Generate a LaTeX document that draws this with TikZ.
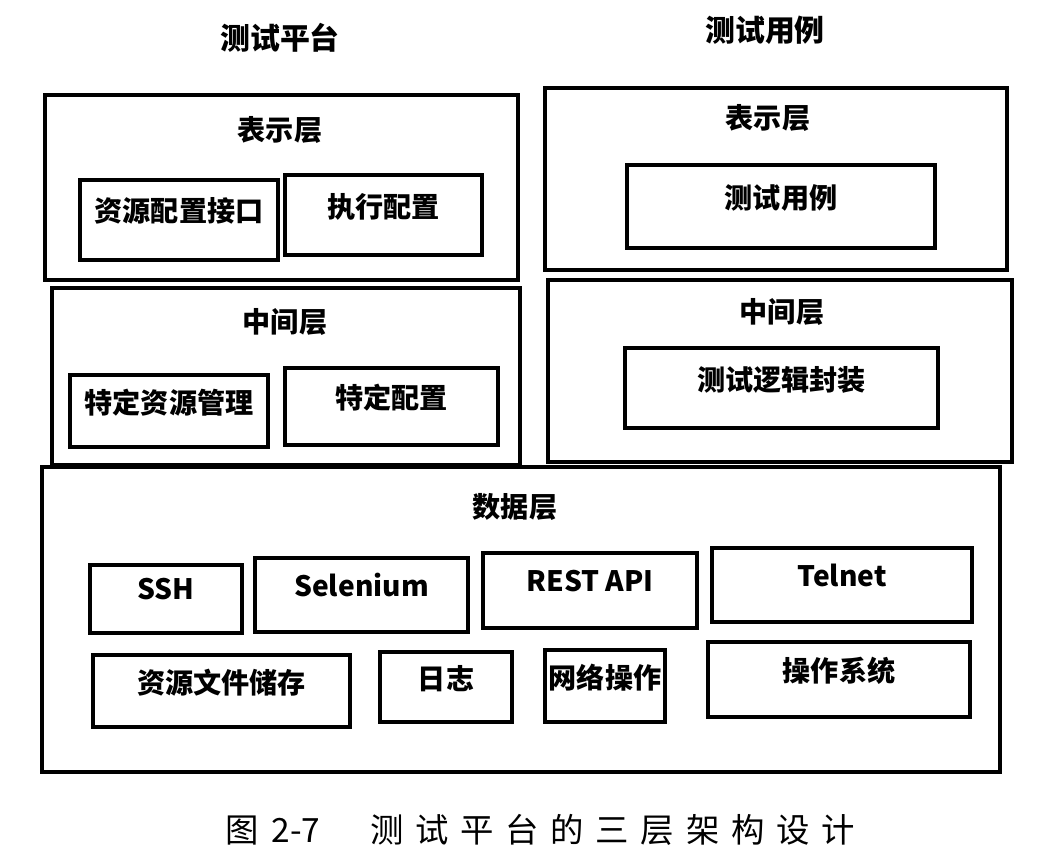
\documentclass[tikz,border=0pt]{standalone}
\usepackage{fontspec}
\newfontfamily\cjk{Noto Sans CJK SC}
\newfontfamily\cjkcap[LetterSpace=35]{Noto Sans CJK SC}
\begin{document}
\begin{tikzpicture}[x=0.01cm,y=-0.01cm,
    layer/.style={draw,line width=1.2pt,inner sep=0pt},
    item/.style={draw,line width=1.2pt,inner sep=0pt,text depth=0.2cm,font=\cjk\bfseries\fontsize{8}{10}\selectfont},
    lab/.style={font=\cjk\bfseries\fontsize{8}{10}\selectfont}]
    \useasboundingbox (0,0) rectangle (1046,868);
    % titles
    \node[lab,font=\cjk\bfseries\fontsize{8.5}{10}\selectfont] (tplat) at (280,38) {测试平台};
    \node[lab,font=\cjk\bfseries\fontsize{8.5}{10}\selectfont] (tcase) at (765,30) {测试用例};
    % presentation layer
    \node[layer,minimum width=4.73cm,minimum height=1.85cm] (pl) at (281.5,187.5) {};
    \node[lab] (pll) at (280,130) {表示层};
    \node[item,minimum width=1.98cm,minimum height=0.8cm] (resif) at (179,220) {资源配置接口};
    \node[item,minimum width=1.97cm,minimum height=0.8cm] (exec) at (383.5,215) {执行配置};
    \node[layer,minimum width=4.62cm,minimum height=1.82cm] (pr) at (776,179) {};
    \node[lab] (prl) at (768,118) {表示层};
    \node[item,minimum width=3.08cm,minimum height=0.83cm] (cases) at (781,206.5) {测试用例};
    % middle layer
    \node[layer,minimum width=4.68cm,minimum height=1.77cm] (ml) at (286,376.5) {};
    \node[lab] (mll) at (285,322) {中间层};
    \node[item,minimum width=1.98cm,minimum height=0.72cm] (resmgr) at (169,411) {特定资源管理};
    \node[item,minimum width=2.13cm,minimum height=0.77cm] (conf) at (391.5,406.5) {特定配置};
    \node[layer,minimum width=4.64cm,minimum height=1.82cm] (mr) at (780,371) {};
    \node[lab] (mrl) at (782,312) {中间层};
    \node[item,minimum width=3.13cm,minimum height=0.8cm] (logic) at (781.5,388) {测试逻辑封装};
    % data layer
    \node[layer,minimum width=9.58cm,minimum height=3.05cm] (dl) at (521,619.5) {};
    \node[lab] (dll) at (515,507) {数据层};
    \node[item,minimum width=1.52cm,minimum height=0.68cm] (ssh) at (166,599) {SSH};
    \node[item,minimum width=2.13cm,minimum height=0.74cm] (sel) at (361.5,595) {Selenium};
    \node[item,minimum width=2.14cm,minimum height=0.75cm] (rest) at (590,590.5) {REST API};
    \node[item,minimum width=2.6cm,minimum height=0.74cm] (tel) at (842,585) {Telnet};
    \node[item,minimum width=2.57cm,minimum height=0.72cm] (files) at (221.5,691) {资源文件储存};
    \node[item,minimum width=1.32cm,minimum height=0.7cm] (log) at (446,687) {日志};
    \node[item,minimum width=1.2cm,minimum height=0.72cm] (net) at (605,686) {网络操作};
    \node[item,minimum width=2.62cm,minimum height=0.75cm] (os) at (839,679.5) {操作系统};
    % caption
    \node[font=\cjk\fontsize{9.5}{11}\selectfont] (cap) at (540,830) {图\hspace{0.13cm}2-7\hspace{0.5cm}{\cjkcap 测试平台的三层架构设计}};
\end{tikzpicture}
\end{document}
